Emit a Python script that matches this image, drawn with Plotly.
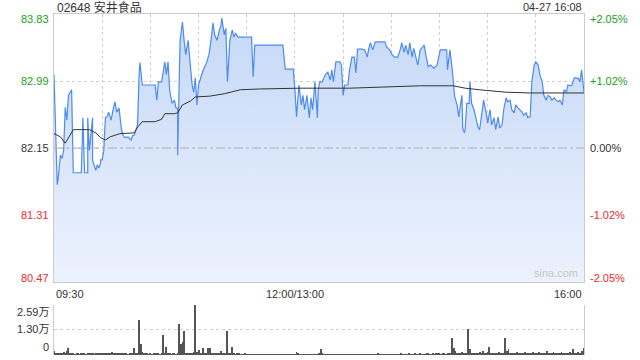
import plotly.graph_objects as go

# ---------------- data ----------------
prev_close = 82.15
y_ticks = [83.83, 82.99, 82.15, 81.31, 80.47]
y_tick_labels = ["83.83", "82.99", "82.15", "81.31", "80.47"]
pct_labels = ["+2.05%", "+1.02%", "0.00%", "-1.02%", "-2.05%"]
time_ticks = [0, 150, 330]
time_labels = ["09:30", "12:00/13:00", "16:00"]
vol_ticks = [0, 13000, 25900]
vol_tick_labels = ["0", "1.30万", "2.59万"]

# minutes since 09:30 (trading minutes, lunch break removed)
price_t = [0, 2, 2.5, 4, 5, 6, 7, 8, 9, 11, 11, 12, 14, 16, 17, 18, 19, 21, 21, 22,
           24, 24, 26, 27, 28, 29, 29, 30, 31, 32, 33, 34, 35.5, 37, 38, 39, 40.5, 42, 43, 44,
           46, 48, 49, 50, 52, 53, 53.5, 55, 57, 60, 63, 64, 65, 67, 68.5, 69, 70, 71, 72, 73.5,
           75, 76, 77, 77, 78.5, 80, 81, 82, 83.5, 85, 86, 87, 88, 89, 90, 91.5, 93, 95, 96.5, 98,
           99, 100, 101.5, 103, 104, 104.5, 106, 107, 108, 109.5, 111, 112, 113, 114.5, 119, 123, 124, 125, 131, 137.5,
           142.5, 144, 147, 149, 150, 151, 152.5, 154, 155, 156, 157.5, 159, 160, 161, 162.5, 164, 164.5, 165.5, 167, 168,
           169, 170.5, 172, 173, 174, 175.5, 178, 179, 180, 181, 183, 184, 185.5, 187, 188, 189, 192, 193.5, 195, 196,
           197, 198.5, 200, 203, 206, 207, 209, 210.5, 212, 214, 215.5, 216.5, 218, 219, 220.5, 221.5, 223, 224, 225.5, 226.5,
           228, 229, 230.5, 231.5, 233, 234.5, 236.5, 238.5, 240.5, 243, 244.5, 245, 246.5, 248, 248.5, 249.5, 251, 252, 253.5, 254,
           254.5, 255.5, 256, 257, 258.5, 259, 260, 261.5, 263, 264, 265, 266.5, 267.5, 269, 270, 271.5, 272.5, 274, 275, 276.5,
           277.5, 279, 280, 281.5, 282.5, 284, 285, 286.5, 287.5, 289, 290, 291.5, 292.5, 294, 295, 296.5, 297.5, 299, 300, 301.5,
           302.5, 304, 305, 306.5, 307.5, 309, 310, 311.5, 312.5, 314, 315, 316.5, 317.5, 319, 320, 321.5, 322.5, 324, 325, 326.5,
           327.5, 328.5, 330]
price = [83.07, 81.69, 81.75, 82.06, 82.02, 82.12, 82.66, 82.50, 82.81, 82.88, 82.85, 81.84, 81.84, 81.84, 81.84, 82.53, 81.84, 81.84, 82.53, 82.12,
         82.53, 82.00, 81.87, 81.94, 81.90, 81.96, 82.00, 82.00, 82.12, 82.53, 82.54, 82.60, 82.50, 82.65, 82.73, 82.60, 82.65, 82.38, 82.31, 82.28,
         82.29, 82.25, 82.31, 82.31, 82.44, 83.07, 83.22, 82.94, 82.94, 82.94, 82.94, 82.75, 82.98, 82.98, 83.19, 83.23, 83.07, 83.23, 82.88, 82.71,
         82.75, 82.65, 82.65, 82.06, 83.50, 83.73, 83.50, 83.32, 83.50, 83.13, 82.94, 82.85, 83.03, 82.69, 82.94, 83.04, 83.13, 83.22, 83.32, 83.54,
         83.72, 83.57, 83.50, 83.63, 83.69, 83.78, 83.57, 83.65, 82.98, 83.50, 83.63, 83.54, 83.59, 83.54, 83.54, 83.54, 83.04, 83.44, 83.44, 83.44,
         83.44, 83.14, 83.14, 83.14, 82.88, 82.54, 82.94, 82.69, 82.81, 82.63, 82.81, 82.53, 82.78, 82.63, 82.98, 82.53, 82.88, 82.98, 82.98, 83.03,
         83.07, 83.10, 83.00, 83.13, 82.98, 83.23, 83.23, 83.19, 82.81, 82.94, 82.94, 83.13, 83.29, 83.29, 83.09, 83.39, 83.39, 83.38, 83.29, 83.40,
         83.47, 83.38, 83.48, 83.48, 83.48, 83.42, 83.38, 83.32, 83.29, 83.29, 83.38, 83.47, 83.35, 83.44, 83.32, 83.47, 83.29, 83.40, 83.25, 83.19,
         83.38, 83.40, 83.44, 83.32, 83.17, 83.19, 83.15, 83.19, 83.38, 83.38, 83.38, 83.13, 83.38, 83.13, 82.98, 82.79, 82.69, 82.54, 82.75, 82.81,
         82.40, 82.34, 82.38, 82.71, 82.71, 82.98, 82.71, 82.63, 82.50, 82.41, 82.38, 82.63, 82.75, 82.60, 82.46, 82.63, 82.44, 82.53, 82.38, 82.54,
         82.40, 82.44, 82.63, 82.78, 82.73, 82.75, 82.63, 82.59, 82.69, 82.65, 82.63, 82.60, 82.56, 82.59, 82.53, 82.54, 82.98, 83.19, 83.23, 83.19,
         83.07, 82.98, 82.81, 82.75, 82.81, 82.79, 82.75, 82.78, 82.75, 82.73, 82.75, 82.69, 82.88, 82.85, 82.94, 82.93, 82.94, 83.03, 83.03, 83.02,
         82.98, 83.13, 82.85]

avg_t = [0, 4, 7, 9, 12, 22, 26, 29, 32, 35, 41, 50, 52, 55, 63, 67, 69, 75, 77, 80,
         85, 88, 97, 106, 116, 128, 153, 184, 228, 248.5, 256, 265, 281, 296.5, 330]
avg_price = [82.33, 82.29, 82.21, 82.28, 82.38, 82.38, 82.34, 82.28, 82.25, 82.29, 82.33, 82.34, 82.41, 82.48, 82.48, 82.51, 82.58, 82.58, 82.59, 82.69,
             82.74, 82.79, 82.80, 82.83, 82.88, 82.89, 82.90, 82.90, 82.93, 82.93, 82.90, 82.88, 82.85, 82.84, 82.84]

# per-minute volume, in hundreds of shares (minute 0 .. 330)
vol_100 = [
    20, 8, 6, 10, 12, 8, 15, 10, 20, 36,
    10, 8, 6, 5, 6, 8, 5, 6, 7, 6,
    5, 6, 8, 7, 6, 5, 6, 7, 8, 6,
    10, 12, 8, 12, 10, 8, 15, 10, 8, 6,
    8, 12, 6, 10, 8, 6, 5, 8, 10, 12,
    36, 12, 8, 180, 57, 15, 10, 8, 6, 5,
    6, 5, 8, 6, 10, 8, 5, 6, 104, 8,
    40, 10, 6, 5, 8, 6, 5, 8, 160, 57,
    67, 124, 10, 8, 6, 8, 12, 15, 259, 15,
    26, 12, 8, 36, 10, 12, 36, 36, 8, 10,
    8, 12, 10, 8, 20, 10, 8, 8, 124, 10,
    8, 41, 6, 5, 8, 6, 5, 4, 5, 6,
    4, 3, 5, 4, 3, 4, 5, 3, 4, 3,
    3, 4, 3, 5, 4, 3, 4, 3, 3, 4,
    3, 4, 5, 3, 4, 3, 3, 4, 3, 4,
    5, 15, 6, 4, 3, 4, 3, 4, 3, 3,
    4, 3, 3, 4, 5, 8, 31, 10, 4, 3,
    3, 4, 3, 3, 4, 3, 3, 4, 3, 3,
    4, 3, 3, 4, 3, 3, 4, 3, 3, 4,
    3, 3, 4, 3, 3, 4, 3, 3, 4, 3,
    3, 4, 6, 3, 4, 3, 3, 5, 3, 4,
    3, 4, 3, 5, 4, 3, 6, 3, 4, 5,
    4, 6, 3, 5, 4, 8, 5, 4, 6, 5,
    5, 4, 6, 8, 5, 4, 6, 5, 7, 6,
    8, 5, 6, 7, 5, 6, 8, 12, 88, 36,
    20, 12, 10, 8, 15, 10, 8, 6, 135, 31,
    12, 10, 8, 12, 10, 15, 8, 20, 12, 10,
    15, 41, 12, 10, 8, 12, 10, 15, 10, 8,
    12, 88, 20, 31, 10, 8, 12, 10, 15, 8,
    10, 12, 8, 15, 10, 12, 8, 10, 15, 12,
    10, 8, 15, 10, 12, 8, 10, 20, 12, 8,
    10, 15, 12, 8, 10, 12, 15, 10, 8, 12,
    10, 15, 12, 31, 10, 8, 15, 12, 10, 20,
    36]
vol_t = list(range(len(vol_100)))
volume = [v * 100 for v in vol_100]

title_text = "02648 安井食品"
stamp_text = "04-27 16:08"

# ---------------- styling ----------------
W, H = 640, 360
L, R = 54, 584
MAIN_TOP, MAIN_BOT = 14, 282
VOL_TOP, VOL_BOT = 305, 355
FONT = "Liberation Sans, Arial, Noto Sans CJK SC, sans-serif"
GREEN = "#1a9f1a"
RED = "#ee2a2a"
DARK = "#333333"
GRID = "#cfcfcf"


def px(x):
    return x / W


def py(y):
    return (H - y) / H


fig = go.Figure()

fig.add_trace(go.Scatter(
    x=price_t, y=price, mode="lines",
    line=dict(color="#4d8bf0", width=1.2),
    fill="tozeroy",
    fillgradient=dict(type="vertical", start=y_ticks[-1], stop=y_ticks[0],
                      colorscale=[[0, "rgb(236,242,253)"], [1, "rgb(197,216,247)"]]),
    hoverinfo="skip", xaxis="x", yaxis="y"))

fig.add_trace(go.Scatter(
    x=avg_t, y=avg_price, mode="lines",
    line=dict(color="#333333", width=1),
    hoverinfo="skip", xaxis="x", yaxis="y"))

fig.add_trace(go.Bar(
    x=vol_t, y=volume, width=0.6,
    marker=dict(color="#555555", line=dict(width=0)),
    hoverinfo="skip", xaxis="x2", yaxis="y2"))

fig.update_layout(
    width=W, height=H,
    margin=dict(l=0, r=0, t=0, b=0),
    paper_bgcolor="white", plot_bgcolor="white",
    showlegend=False,
    bargap=0,
    font=dict(family=FONT, size=11, color=DARK),
    xaxis=dict(domain=[px(L), px(R)], range=[0, 330], tick0=0, dtick=30,
               showgrid=True, gridcolor=GRID, griddash="dot", gridwidth=1,
               showticklabels=False, ticks="", zeroline=False,
               showline=True, linecolor="#cccccc", linewidth=1, mirror=True,
               anchor="y"),
    yaxis=dict(domain=[py(MAIN_BOT), py(MAIN_TOP)], range=[y_ticks[-1], y_ticks[0]],
               tickvals=y_ticks[1:-1], showgrid=True, gridcolor=GRID, griddash="dot",
               showticklabels=False, ticks="", zeroline=False,
               showline=True, linecolor="#cccccc", linewidth=1, mirror=True,
               anchor="x"),
    xaxis2=dict(domain=[px(L), px(R)], range=[0, 330], tick0=0, dtick=30,
                showgrid=False, showticklabels=False, ticks="", zeroline=False,
                showline=False, anchor="y2"),
    yaxis2=dict(domain=[py(VOL_BOT), py(VOL_TOP)], range=[0, vol_ticks[-1]],
                tickvals=vol_ticks[1:], showgrid=True, gridcolor=GRID, griddash="dot",
                showticklabels=False, ticks="", zeroline=False,
                showline=True, linecolor="#cccccc", linewidth=1, mirror=True,
                anchor="x2"),
)

ann = []
# title & timestamp
ann.append(dict(text=title_text, x=px(L + 1), y=py(7), xref="paper", yref="paper",
                xanchor="left", yanchor="middle", showarrow=False,
                font=dict(size=12, color=DARK, family=FONT)))
ann.append(dict(text=stamp_text, x=px(R), y=py(7), xref="paper", yref="paper",
                xanchor="right", yanchor="middle", showarrow=False,
                font=dict(size=11, color=DARK, family=FONT)))

# price / percent labels
colors = [GREEN, GREEN, DARK, RED, RED]
shifts = [-5, 0, 0, 0, 4]
for v, lab, pl, c, s in zip(y_ticks, y_tick_labels, pct_labels, colors, shifts):
    ann.append(dict(text=lab, x=px(L - 3), y=v, xref="paper", yref="y",
                    xanchor="right", yanchor="middle", yshift=s, showarrow=False,
                    font=dict(size=11, color=c, family=FONT)))
    ann.append(dict(text=pl, x=px(R + 4), y=v, xref="paper", yref="y",
                    xanchor="left", yanchor="middle", yshift=s, showarrow=False,
                    font=dict(size=11, color=c, family=FONT)))

# time labels
anchors = ["left", "center", "right"]
for t, lab, a in zip(time_ticks, time_labels, anchors):
    ann.append(dict(text=lab, x=t, y=py(294), xref="x", yref="paper",
                    xanchor=a, yanchor="middle", showarrow=False,
                    font=dict(size=11, color=DARK, family=FONT)))

# volume labels
vshifts = [8, 1, -7]
for v, lab, s in zip(vol_ticks, vol_tick_labels, vshifts):
    ann.append(dict(text=lab, x=px(L - 3), y=v, xref="paper", yref="y2",
                    xanchor="right", yanchor="middle", yshift=s, showarrow=False,
                    font=dict(size=11, color=DARK, family=FONT)))

# watermark
ann.append(dict(text="sina.com", x=px(R - 4), y=py(273), xref="paper", yref="paper",
                xanchor="right", yanchor="middle", showarrow=False,
                font=dict(size=11, color="#c8c8c8", family=FONT)))

fig.update_layout(annotations=ann)

# previous close reference line
fig.add_shape(type="line", xref="x", yref="y", x0=0, x1=330, y0=prev_close, y1=prev_close,
              line=dict(color="#b0b0b0", width=1, dash="dashdot"), layer="above")

fig.write_html("out.html")
